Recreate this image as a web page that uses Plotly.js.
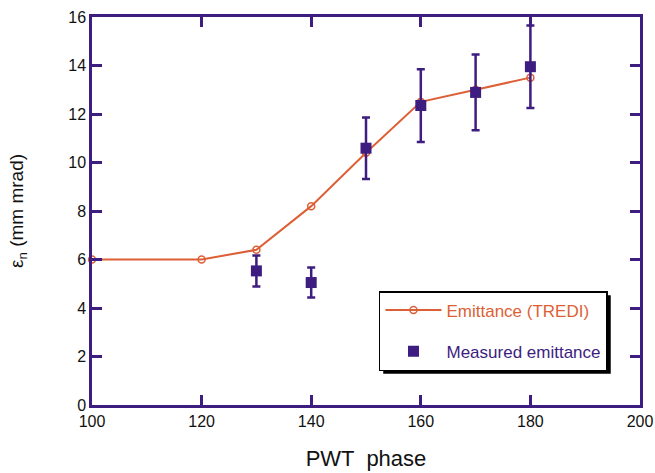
<!DOCTYPE html>
<html><head><meta charset="utf-8">
<script src="https://cdn.plot.ly/plotly-3.0.1.min.js"></script>
<style>body{margin:0;background:#fff}#c{width:655px;height:473px}</style>
</head><body><div id="c"></div>
<script>
const trediPhase = [100, 120, 130, 140, 150, 160, 170, 180];
const trediEmit = [6.0, 6.0, 6.4, 8.2, 10.4, 12.5, 13.0, 13.5];
const measPhase = [130, 140, 150, 160, 170, 180];
const measEmit = [5.53, 5.05, 10.59, 12.35, 12.89, 13.95];
const measErr = [0.64, 0.62, 1.27, 1.5, 1.56, 1.7];

const orange = '#dd5f36';
const purple = '#3d1d80';
const FONT = 'Liberation Sans, Arial, sans-serif';

const traces = [
  {x: trediPhase, y: trediEmit, type: 'scatter', mode: 'lines+markers',
   name: '<span style="color:' + orange + '">Emittance (TREDI)</span>',
   legendgroup: 'a', cliponaxis: false,
   line: {color: orange, width: 2},
   marker: {symbol: 'circle-open', size: 7, color: orange, line: {width: 1.5}}},
  {x: measPhase, y: measEmit, type: 'scatter', mode: 'markers',
   name: '<span style="color:' + purple + '">Measured emittance</span>',
   legendgroup: 'b', cliponaxis: false,
   marker: {symbol: 'square', size: 11, color: purple},
   error_y: {type: 'data', array: measErr, visible: true, color: purple, thickness: 2.5, width: 4}}
];

const axisCommon = {
  showline: true, linecolor: purple, linewidth: 2.5, mirror: 'ticks',
  ticks: 'inside', ticklen: 10, tickwidth: 2.5, tickcolor: purple,
  showgrid: false, zeroline: false,
  tickfont: {family: FONT, size: 16, color: '#111'}
};

const layout = {
  width: 655, height: 473,
  margin: {l: 92, r: 15, t: 17, b: 68},
  paper_bgcolor: '#fff', plot_bgcolor: '#fff',
  showlegend: true,
  xaxis: Object.assign({}, axisCommon, {range: [100, 200], dtick: 20, tick0: 100, automargin: false,
    title: {text: 'PWT  phase', font: {family: FONT, size: 22, color: '#111'}, standoff: 22}}),
  yaxis: Object.assign({}, axisCommon, {range: [0, 16], dtick: 2, tick0: 0, automargin: false,
    title: {text: 'ε<sub>n</sub> (mm mrad)', font: {family: FONT, size: 19, color: '#111'}, standoff: 40}}),
  legend: {x: 0.5237, y: 0.2938, xanchor: 'left', yanchor: 'top',
    bgcolor: '#fff', bordercolor: '#000', borderwidth: 1.5,
    font: {family: FONT, size: 17},
    itemwidth: 56,
    tracegroupgap: 16, traceorder: 'grouped'},
  shapes: [
    {type: 'rect', xref: 'paper', yref: 'paper', layer: 'above',
     x0: 0.529, x1: 0.9526, y0: 0.0825, y1: 0.286,
     fillcolor: '#000', line: {width: 0}}
  ]
};

Plotly.newPlot('c', traces, layout, {displayModeBar: false}).then(function (gd) {
  // place the drop shadow exactly behind the rendered legend box
  const bg = gd.querySelector('.legend .bg');
  if (!bg) return;
  const r = bg.getBoundingClientRect();
  const c = gd.getBoundingClientRect();
  const sz = gd._fullLayout._size;
  const off = 3.5;
  const px2x = p => (p - c.left - sz.l) / sz.w;
  const px2y = p => 1 - (p - c.top - sz.t) / sz.h;
  return Plotly.relayout(gd, {
    'shapes[0].x0': px2x(r.left + off), 'shapes[0].x1': px2x(r.right + off),
    'shapes[0].y0': px2y(r.bottom + off), 'shapes[0].y1': px2y(r.top + off)
  });
});
</script></body></html>
